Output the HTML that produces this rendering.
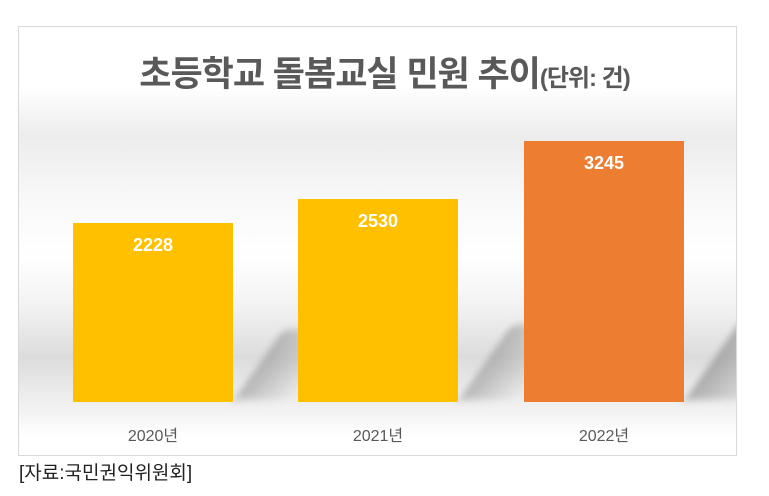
<!DOCTYPE html>
<html><head><meta charset="utf-8"><style>
body{margin:0;width:769px;height:496px;background:#fff;position:relative;overflow:hidden;font-family:"Liberation Sans","Noto Sans CJK KR",sans-serif}
.frame{position:absolute;left:18px;top:26px;width:719px;height:430px;border:1px solid #d9d9d9;box-sizing:border-box;overflow:hidden;
background:linear-gradient(to bottom,#fff 0px,#fff 60px,#ececec 110px,#f8f8f8 170px,#fff 230px,#f2f2f2 280px,#dcdcdc 330px,#f3f3f3 385px,#fff 410px)}
.t{position:absolute;left:0;width:769px;top:46px;text-align:center;font-size:35px;font-weight:bold;color:#595959;letter-spacing:-1px}
.t span{font-size:24px}
.bar{position:absolute;bottom:94px;width:160px}
.v{position:absolute;top:12px;width:100%;text-align:center;color:#fff;font-weight:bold;font-size:18px}
.sh{position:absolute;bottom:55px;height:80px;background:linear-gradient(to right,rgba(140,140,140,.55),rgba(200,200,200,0));transform:skewX(-35deg);transform-origin:bottom left;filter:blur(4px)}
.l{position:absolute;top:422px;width:160px;text-align:center;font-size:16px;color:#595959}
.src{position:absolute;left:19px;top:458px;font-size:19px;color:#222}
</style></head><body>
<div class="frame">
<div class="sh" style="left:215px;width:60px;height:70px"></div>
<div class="sh" style="left:440px;width:60px;height:75px"></div>
<div class="sh" style="left:666px;width:60px;height:85px;background:linear-gradient(to right,rgba(140,140,140,.65),rgba(190,190,190,.3))"></div>
</div>
<div class="t">초등학교 돌봄교실 민원 추이<span>(단위: 건)</span></div>
<div class="bar" style="left:73px;top:223px;background:#ffc000"><div class="v">2228</div></div>
<div class="bar" style="left:298px;top:199px;background:#ffc000"><div class="v">2530</div></div>
<div class="bar" style="left:524px;top:141px;background:#ed7d31"><div class="v">3245</div></div>
<div class="l" style="left:73px">2020년</div>
<div class="l" style="left:298px">2021년</div>
<div class="l" style="left:524px">2022년</div>
<div class="src">[자료:국민권익위원회]</div>
</body></html>
